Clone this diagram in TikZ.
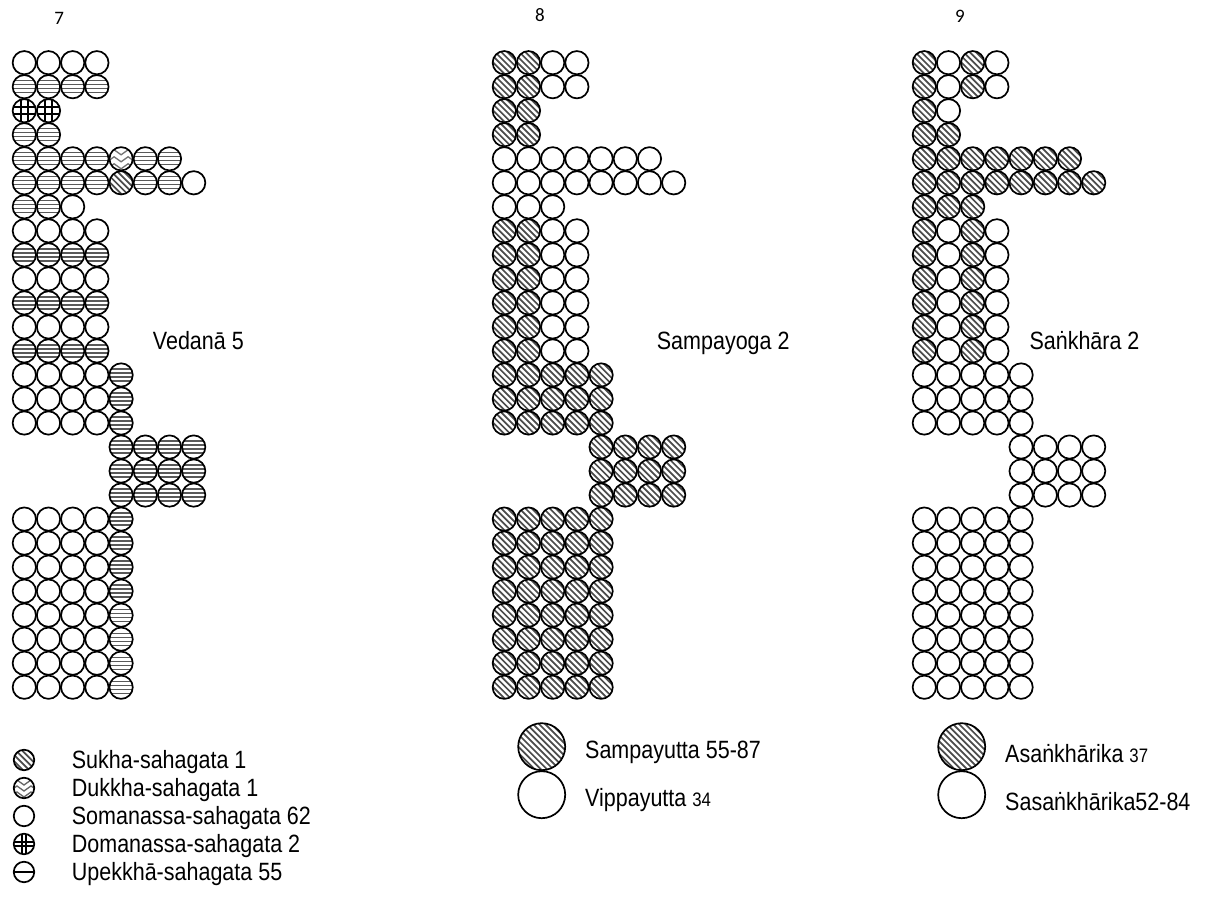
\documentclass[tikz,border=0pt]{standalone}
\usepackage{fontspec}
\setmainfont{Liberation Sans}[FakeStretch=0.86]
\newfontfamily\carl{Carlito}
\newcommand\bigf{\fontsize{25}{30}\selectfont}
\newcommand\smf{\fontsize{19.5}{22}\selectfont}
\tikzset{
  ball/.style={circle, draw=black, line width=1.7pt, minimum size=23.3pt, inner sep=0pt, fill=white},
  ballw/.style={ball},
  hatchpp/.style={path picture={\begin{scope}[shift={(path picture bounding box.center)}]
      \foreach \t in {-42,-35.8,...,42}{\draw[line width=1.7pt, black!70] (\t-30,-30) -- (\t+30,30);}
      \end{scope}}},
  ballh/.style={ball, hatchpp},
  balls/.style={ball, hatchpp},
  ballu/.style={ball, path picture={\begin{scope}[shift={(path picture bounding box.center)}]
      \foreach \t in {-6,-2,2,6}{\draw[line width=1.3pt, black!65] (-15,\t) -- (15,\t);}
      \end{scope}}},
  balld/.style={ball, path picture={\begin{scope}[shift={(path picture bounding box.center)}]
      \foreach \t in {-3.5,3.5}{\draw[line width=1.5pt] (-15,\t) -- (15,\t); \draw[line width=1.5pt] (\t,-15) -- (\t,15);}
      \end{scope}}},
  ballk/.style={ball, path picture={\begin{scope}[shift={(path picture bounding box.center)}]
      \foreach \t in {-4,3,10}{\draw[line width=1.3pt, black!55] (-14,\t) -- (-7,\t-5) -- (0,\t) -- (7,\t-5) -- (14,\t);}
      \end{scope}}},
  leg/.style={circle, draw=black, line width=1.7pt, minimum size=20.5pt, inner sep=0pt, fill=white},
  legs/.style={leg, hatchpp},
  legk/.style={leg, path picture={\begin{scope}[shift={(path picture bounding box.center)}]
      \foreach \t in {-3,3,9}{\draw[line width=1.3pt, black!60] (-14,\t) -- (-7,\t-5) -- (0,\t) -- (7,\t-5) -- (14,\t);}
      \end{scope}}},
  legw/.style={leg},
  legd/.style={leg, path picture={\begin{scope}[shift={(path picture bounding box.center)}]
      \foreach \t in {-2,2}{\draw[line width=1.4pt] (-15,\t) -- (15,\t); \draw[line width=1.4pt] (\t,-15) -- (\t,15);}
      \end{scope}}},
  legu/.style={leg, path picture={\begin{scope}[shift={(path picture bounding box.center)}]
      \draw[line width=1.8pt] (-15,0) -- (15,0);
      \end{scope}}},
  bigh/.style={circle, draw=black, line width=1.7pt, minimum size=47pt, inner sep=0pt, fill=white, hatchpp},
  bigw/.style={circle, draw=black, line width=1.7pt, minimum size=47pt, inner sep=0pt, fill=white},
  lab/.style={inner sep=0pt, anchor=base west, font=\bigf},
  num/.style={inner sep=0pt, font=\carl\fontsize{19}{19}\selectfont},
}
% #1 prefix, #2 x0, #3 row, #4 start col, #5 list
\newcommand\crow[5]{%
  \foreach \t [count=\i from #4] in {#5} {\node[ball\t] (#1-#3-\i) at ({#2+24.2*(\i-1)},{62.7+24.02*(#3-1)}) {};}}
\begin{document}
\begin{tikzpicture}[x=1pt,y=-1pt]
\useasboundingbox[fill=white] (0,0) rectangle (1211,918);

% ---------- panel 7 : Vedana ----------
\node[num] (n7) at (59.3,18.3) {7};
\crow{a}{24.3}{1}{1}{w,w,w,w}
\crow{a}{24.3}{2}{1}{u,u,u,u}
\crow{a}{24.3}{3}{1}{d,d}
\crow{a}{24.3}{4}{1}{u,u}
\crow{a}{24.3}{5}{1}{u,u,u,u,k,u,u}
\crow{a}{24.3}{6}{1}{u,u,u,u,s,u,u,w}
\crow{a}{24.3}{7}{1}{u,u,w}
\foreach \r in {8,10,12} {\crow{a}{24.3}{\r}{1}{w,w,w,w}}
\foreach \r in {9,11,13} {\crow{a}{24.3}{\r}{1}{u,u,u,u}}
\foreach \r in {14,15,16} {\crow{a}{24.3}{\r}{1}{w,w,w,w,u}}
\foreach \r in {17,18,19} {\crow{a}{24.3}{\r}{5}{u,u,u,u}}
\foreach \r in {20,...,27} {\crow{a}{24.3}{\r}{1}{w,w,w,w,u}}
\node[lab] (ved) at (152.7,349.8) {Vedanā 5};

% ---------- panel 8 : Sampayoga ----------
\node[num] (n8) at (540,15) {8};
\crow{b}{504.3}{1}{1}{h,h,w,w}
\crow{b}{504.3}{2}{1}{h,h,w,w}
\crow{b}{504.3}{3}{1}{h,h}
\crow{b}{504.3}{4}{1}{h,h}
\crow{b}{504.3}{5}{1}{w,w,w,w,w,w,w}
\crow{b}{504.3}{6}{1}{w,w,w,w,w,w,w,w}
\crow{b}{504.3}{7}{1}{w,w,w}
\foreach \r in {8,...,13} {\crow{b}{504.3}{\r}{1}{h,h,w,w}}
\foreach \r in {14,15,16} {\crow{b}{504.3}{\r}{1}{h,h,h,h,h}}
\foreach \r in {17,18,19} {\crow{b}{504.3}{\r}{5}{h,h,h,h}}
\foreach \r in {20,...,27} {\crow{b}{504.3}{\r}{1}{h,h,h,h,h}}
\node[lab] (samp) at (656.7,349.8) {Sampayoga 2};

% ---------- panel 9 : Sankhara ----------
\node[num] (n9) at (960,16.7) {9};
\crow{c}{924.3}{1}{1}{h,w,h,w}
\crow{c}{924.3}{2}{1}{h,w,h,w}
\crow{c}{924.3}{3}{1}{h,w}
\crow{c}{924.3}{4}{1}{h,h}
\crow{c}{924.3}{5}{1}{h,h,h,h,h,h,h}
\crow{c}{924.3}{6}{1}{h,h,h,h,h,h,h,h}
\crow{c}{924.3}{7}{1}{h,h,h}
\foreach \r in {8,...,13} {\crow{c}{924.3}{\r}{1}{h,w,h,w}}
\foreach \r in {14,15,16} {\crow{c}{924.3}{\r}{1}{w,w,w,w,w}}
\foreach \r in {17,18,19} {\crow{c}{924.3}{\r}{5}{w,w,w,w}}
\foreach \r in {20,...,27} {\crow{c}{924.3}{\r}{1}{w,w,w,w,w}}
\node[lab] (sank) at (1029.3,349.8) {Saṅkhāra 2};

% ---------- legends ----------
\node[legs] (l1) at (24,760) {};
\node[legk] (l2) at (24,788) {};
\node[legw] (l3) at (24,816) {};
\node[legd] (l4) at (24,844) {};
\node[legu] (l5) at (24,872) {};
\node[lab] (t1) at (71.7,768.3) {Sukha-sahagata 1};
\node[lab] (t2) at (71.7,796.3) {Dukkha-sahagata 1};
\node[lab] (t3) at (71.7,824.3) {Somanassa-sahagata 62};
\node[lab] (t4) at (71.7,852.3) {Domanassa-sahagata 2};
\node[lab] (t5) at (71.7,880.3) {Upekkhā-sahagata 55};

\node[bigh] (g1) at (541.7,746.7) {};
\node[bigw] (g2) at (541.7,794.7) {};
\node[lab] (u1) at (585,758.3) {Sampayutta 55-87};
\node[lab] (u2) at (585,806) {Vippayutta {\smf 34}};

\node[bigh] (k1) at (961.7,746.7) {};
\node[bigw] (k2) at (961.7,794.7) {};
\node[lab] (v1) at (1005,762.7) {Asaṅkhārika {\smf 37}};
\node[lab] (v2) at (1005,810) {Sasaṅkhārika52-84};
\end{tikzpicture}
\end{document}
